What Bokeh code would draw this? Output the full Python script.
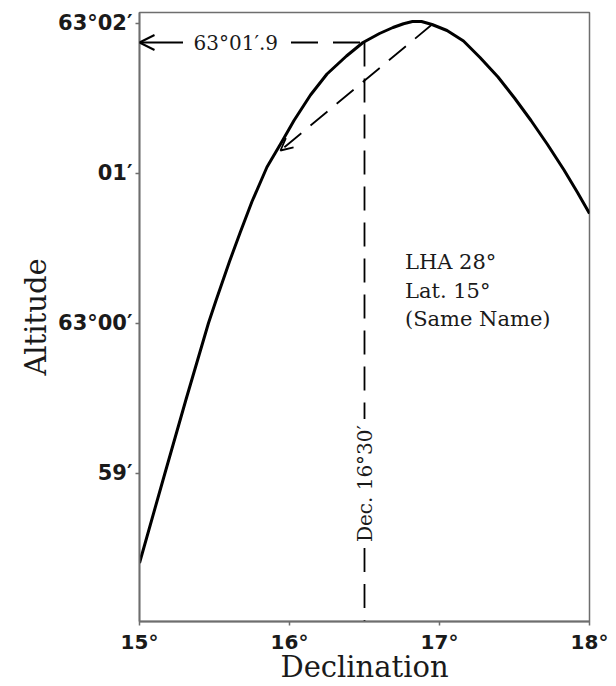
from math import pi
from bokeh.plotting import figure
from bokeh.models import Arrow, OpenHead, Range1d, FixedTicker
from bokeh.core.properties import value
from bokeh.embed import file_html
from bokeh.resources import INLINE

# Declination (degrees) vs altitude (minutes above 63°00')
decl = [15.00, 15.17, 15.31, 15.46, 15.51, 15.60, 15.67, 15.75, 15.85, 15.95,
        16.03, 16.14, 16.25, 16.38, 16.49, 16.60, 16.69, 16.76, 16.82, 16.88,
        16.95, 17.05, 17.16, 17.27, 17.39, 17.50, 17.61, 17.72, 17.83, 17.92, 18.00]
alt = [-1.60, -1.00, -0.51, 0.00, 0.15, 0.41, 0.60, 0.81, 1.04, 1.21,
       1.35, 1.52, 1.66, 1.78, 1.87, 1.93, 1.97, 1.995, 2.01, 2.01,
       1.99, 1.95, 1.88, 1.77, 1.64, 1.50, 1.35, 1.19, 1.02, 0.87, 0.73]

x_ticks = [15, 16, 17, 18]
x_tick_labels = ["15°", "16°", "17°", "18°"]
y_ticks = [-1, 0, 1, 2]
y_tick_labels = ["59′", "63°00′", "01′", "63°02′"]

dec_value = 16.5          # Dec. 16°30'
alt_value = 1.87          # 63°01'.9
chord_x = [15.94, 16.95]
chord_y = [1.15, 1.99]

note_lines = ["LHA 28°", "Lat. 15°", "(Same Name)"]

SERIF = value("DejaVu Serif")
GRAY = "#6e6e6e"
INK = "#1a1a1a"

p = figure(width=610, height=686, x_range=Range1d(15, 18), y_range=Range1d(-1.99, 2.07),
           output_backend="svg", toolbar_location=None,
           min_border_left=139, min_border_top=12, min_border_right=21, min_border_bottom=40)
p.grid.visible = False
p.outline_line_color = GRAY
p.outline_line_width = 1.5
p.background_fill_color = "white"

for ax in (p.xaxis[0], p.yaxis[0]):
    ax.axis_line_color = GRAY
    ax.axis_line_width = 1.8
    ax.major_tick_line_color = GRAY
    ax.major_tick_line_width = 1.5
    ax.major_tick_out = 4
    ax.major_tick_in = 0
    ax.minor_tick_line_color = None
    ax.major_label_text_font = "DejaVu Sans"
    ax.major_label_text_font_style = "bold"
    ax.major_label_text_color = INK
    ax.axis_label_text_font = "DejaVu Serif"
    ax.axis_label_text_font_style = "normal"
    ax.axis_label_text_color = INK
    ax.axis_label_text_font_size = "29px"

p.xaxis.ticker = FixedTicker(ticks=x_ticks)
p.xaxis.major_label_overrides = dict(zip(x_ticks, x_tick_labels))
p.xaxis.major_label_text_font_size = "20px"
p.xaxis.major_label_standoff = 4
p.xaxis.axis_label = "Declination"
p.xaxis.axis_label_standoff = -7

p.yaxis.ticker = FixedTicker(ticks=y_ticks)
p.yaxis.major_label_overrides = dict(zip(y_ticks, y_tick_labels))
p.yaxis.major_label_text_font_size = "21px"
p.yaxis.major_label_standoff = 3
p.yaxis.axis_label = "Altitude"
p.yaxis.axis_label_standoff = 2

# altitude curve
p.line(decl, alt, line_color="black", line_width=3, line_join="round")

# dashed chord with arrow head at its lower end
p.add_layout(Arrow(x_start=chord_x[1], y_start=chord_y[1], x_end=chord_x[0], y_end=chord_y[0],
                   line_color="black", line_width=1.8, line_dash="22 12",
                   end=OpenHead(size=12, line_color="black", line_width=1.8)))

# horizontal dashed reading line
p.segment(x0=[16.01], y0=[alt_value], x1=[dec_value], y1=[alt_value],
          line_color="black", line_width=1.8, line_dash="27 15")

# arrow pointing to the altitude axis
p.add_layout(Arrow(x_start=15.29, y_start=alt_value, x_end=15.0, y_end=alt_value,
                   line_color="black", line_width=2,
                   end=OpenHead(size=15, line_color="black", line_width=2)))
p.text(x=[15.36], y=[alt_value], text=["63°01′.9"], text_font=SERIF, text_font_size="20px",
       text_color=INK, text_align="left", text_baseline="middle")

# vertical dashed declination line, broken by its label
p.segment(x0=[dec_value, dec_value], y0=[alt_value, -1.50], x1=[dec_value, dec_value], y1=[-0.64, -1.99],
          line_color="black", line_width=1.8, line_dash="24 12")
p.text(x=[dec_value], y=[-1.07], text=["Dec. 16°30′"], angle=pi / 2, text_font=SERIF,
       text_font_size="20px", text_color=INK, text_align="center", text_baseline="middle")

# note
p.text(x=[16.77, 16.77, 16.77], y=[0.41, 0.215, 0.025], text=note_lines, text_font=SERIF,
       text_font_size="21px", text_color=INK, text_align="left", text_baseline="alphabetic")

open("out.html", "w").write(file_html(p, INLINE))
